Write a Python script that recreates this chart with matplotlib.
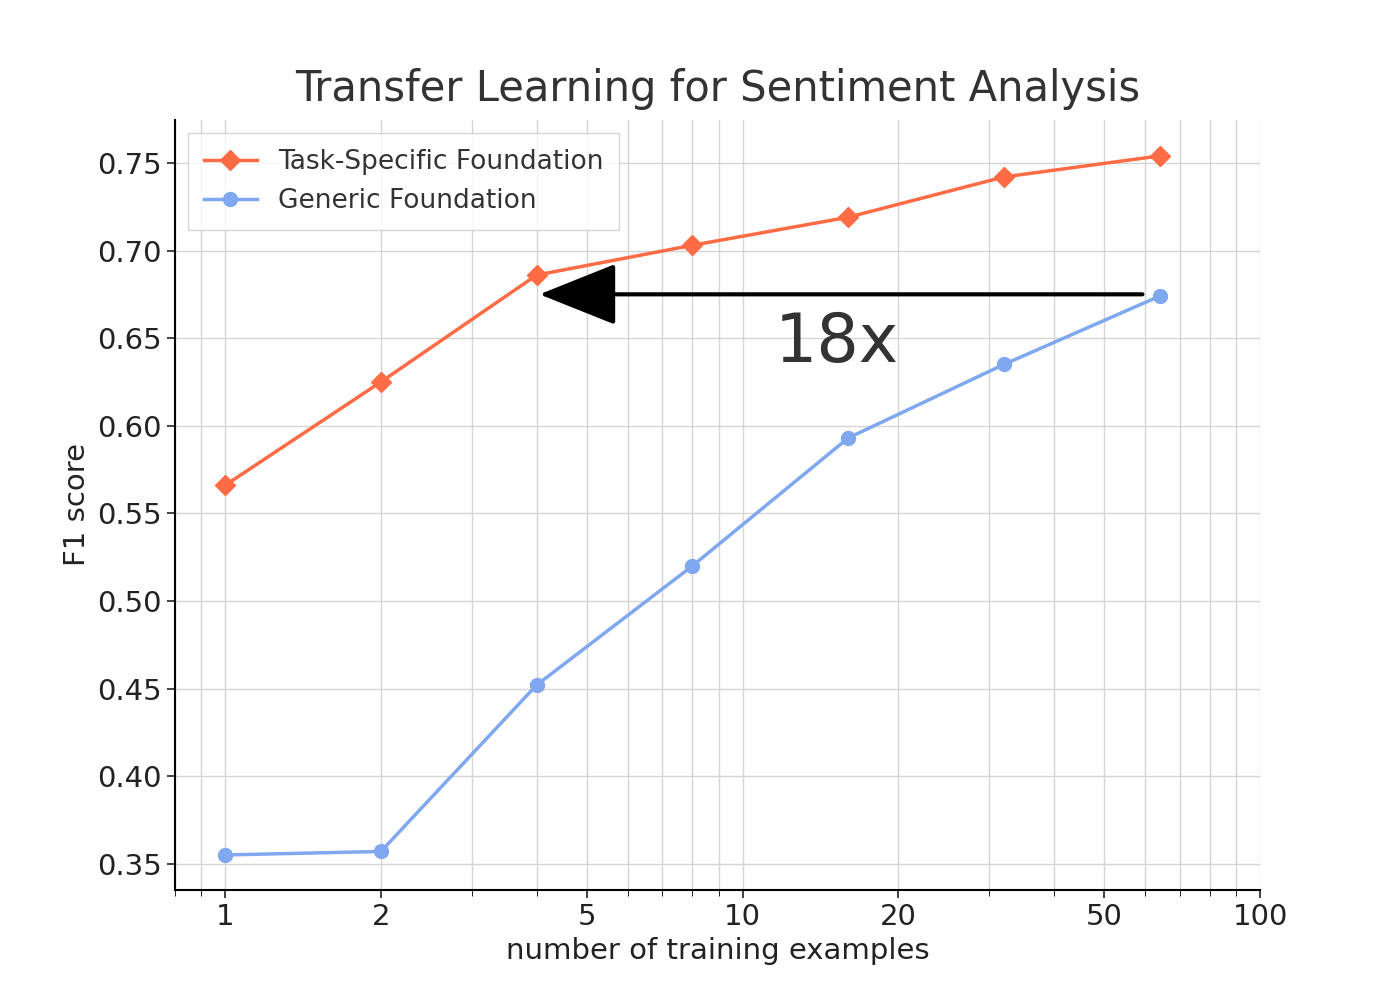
import matplotlib
matplotlib.use("Agg")
import matplotlib.pyplot as plt

x = [1, 2, 4, 8, 16, 32, 64]
task = [0.566, 0.625, 0.686, 0.703, 0.719, 0.742, 0.754]
generic = [0.355, 0.357, 0.452, 0.520, 0.593, 0.635, 0.674]
xticks = [1, 2, 5, 10, 20, 50, 100]

plt.rcParams['font.family'] = ['DejaVu Sans']
fig = plt.figure(figsize=(14, 10), dpi=100)
ax = fig.add_axes([0.125, 0.11, 0.775, 0.77])
ax.plot(x, task, color='#FF6B45', marker='D', markersize=10, lw=2.5, label='Task-Specific Foundation')
ax.plot(x, generic, color='#7FA8F0', marker='o', markersize=10, lw=2.5, label='Generic Foundation')
ax.set_xscale('log')
ax.set_xlim(0.8, 100)
ax.set_ylim(0.335, 0.7745)
ax.set_xticks(xticks)
ax.set_xticklabels([str(t) for t in xticks])
ax.grid(True, which='both', color='#d5d5d5', lw=1)
ax.set_axisbelow(True)
for s in ['top', 'right']:
    ax.spines[s].set_visible(False)
ax.spines['left'].set_linewidth(1.5)
ax.spines['bottom'].set_linewidth(1.5)
ax.tick_params(labelsize=21, length=6, width=1.2, colors='#222222')
ax.tick_params(which='minor', length=4)
ax.set_xlabel('number of training examples', fontsize=21, color='#222222')
ax.set_ylabel('F1 score', fontsize=21, color='#222222')
ax.set_title('Transfer Learning for Sentiment Analysis', fontsize=30, color='#333333', pad=14)
ax.annotate('', xy=(4, 0.675), xytext=(60, 0.675),
            arrowprops=dict(arrowstyle='-|>,head_length=0.7,head_width=0.28', color='black', lw=3, mutation_scale=70))
ax.text(15.2, 0.647, '18x', fontsize=48, color='#333333', ha='center', va='center')
leg = ax.legend(loc='upper left', fontsize=19, frameon=True, fancybox=False, borderpad=0.6)
leg.get_frame().set_edgecolor('#cccccc')
for t in leg.get_texts():
    t.set_color('#333333')
fig.savefig('out.png', dpi=100)
